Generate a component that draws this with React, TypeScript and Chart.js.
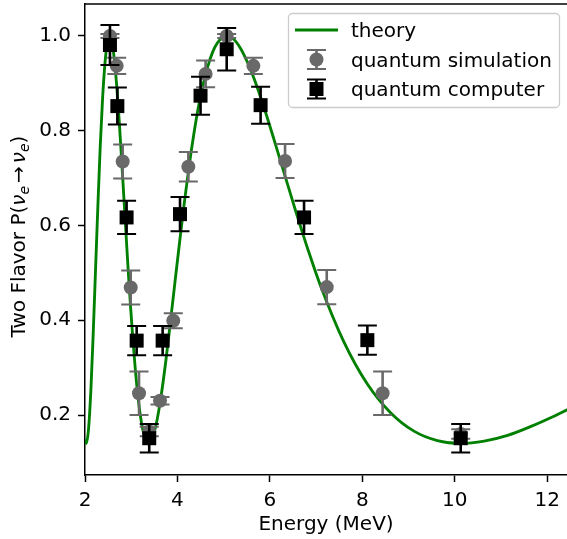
import React, { useEffect, useRef } from "react";
import { Chart, registerables } from "chart.js";

Chart.register(...registerables);

// ---- data ----
const theoryEnergy = [
  2.0, 2.026, 2.077, 2.128, 2.178, 2.229, 2.28, 2.33, 2.381, 2.432, 2.482, 2.533,
  2.584, 2.634, 2.685, 2.736, 2.786, 2.837, 2.888, 2.938, 2.989, 3.04, 3.09, 3.141,
  3.192, 3.242, 3.293, 3.344, 3.394, 3.445, 3.546, 3.648, 3.749, 3.85, 3.951, 4.053,
  4.154, 4.255, 4.357, 4.458, 4.559, 4.661, 4.762, 4.863, 4.965, 5.066, 5.218, 5.37,
  5.522, 5.674, 5.877, 6.079, 6.333, 6.586, 6.839, 7.092, 7.599, 8.106, 8.612, 9.119,
  9.625, 10.132, 10.639, 11.145, 11.652, 12.158, 12.665,
];
const theoryProb = [
  0.149, 0.14, 0.171, 0.254, 0.373, 0.509, 0.645, 0.768, 0.869, 0.942, 0.986, 1.0,
  0.987, 0.951, 0.896, 0.827, 0.749, 0.666, 0.582, 0.5, 0.424, 0.355, 0.295, 0.243,
  0.203, 0.173, 0.153, 0.142, 0.14, 0.147, 0.183, 0.241, 0.314, 0.398, 0.484, 0.57,
  0.652, 0.727, 0.794, 0.852, 0.899, 0.937, 0.966, 0.985, 0.996, 1.0, 0.993, 0.973,
  0.943, 0.906, 0.848, 0.785, 0.703, 0.622, 0.545, 0.474, 0.355, 0.266, 0.205, 0.166,
  0.146, 0.14, 0.145, 0.157, 0.176, 0.198, 0.222,
];

const simEnergy = [2.54, 2.686, 2.815, 2.989, 3.169, 3.39, 3.623, 3.91, 4.236, 4.61, 5.066, 5.643, 6.329, 7.231, 8.44, 10.13];
const simProb = [1.0, 0.937, 0.735, 0.469, 0.246, 0.165, 0.23, 0.399, 0.724, 0.92, 1.0, 0.937, 0.736, 0.47, 0.246, 0.16];
const simErr = [0.004, 0.017, 0.036, 0.036, 0.046, 0.01, 0.008, 0.016, 0.031, 0.028, 0.004, 0.017, 0.036, 0.036, 0.046, 0.01];

const compEnergy = [2.54, 2.7, 2.9, 3.118, 3.39, 3.68, 4.056, 4.5, 5.066, 5.8, 6.74, 8.11, 10.13];
const compProb = [0.981, 0.852, 0.617, 0.357, 0.151, 0.357, 0.624, 0.874, 0.972, 0.854, 0.617, 0.358, 0.151];
const compErr = [0.042, 0.039, 0.035, 0.031, 0.03, 0.031, 0.036, 0.04, 0.045, 0.039, 0.035, 0.031, 0.03];

const xTickValues = [2, 4, 6, 8, 10, 12];
const yTickValues = [0.2, 0.4, 0.6, 0.8, 1.0];

const seriesLabels = ["theory", "quantum simulation", "quantum computer"];
const xTitle = "Energy (MeV)";

const GREEN = "#008000";
const GRAY = "#696969";
const BLACK = "#000000";
const FONT = '"DejaVu Sans"';

const errorBarPlugin = {
  id: "errorBars",
  beforeDatasetDraw(chart: any, args: any) {
    const ds: any = chart.data.datasets[args.index];
    if (!ds.errors) return;
    const xs = chart.scales.x;
    const ys = chart.scales.y;
    const ctx = chart.ctx;
    const area = chart.chartArea;
    ctx.save();
    ctx.beginPath();
    ctx.rect(area.left, area.top, area.right - area.left, area.bottom - area.top);
    ctx.clip();
    ctx.strokeStyle = ds.errorColor;
    ds.data.forEach((pt: any, i: number) => {
      const e = ds.errors[i];
      const px = xs.getPixelForValue(pt.x);
      const top = ys.getPixelForValue(pt.y + e);
      const bot = ys.getPixelForValue(pt.y - e);
      ctx.lineWidth = 2.6;
      ctx.beginPath();
      ctx.moveTo(px, top);
      ctx.lineTo(px, bot);
      ctx.stroke();
      ctx.lineWidth = 2;
      ctx.beginPath();
      ctx.moveTo(px - 9.5, top);
      ctx.lineTo(px + 9.5, top);
      ctx.moveTo(px - 9.5, bot);
      ctx.lineTo(px + 9.5, bot);
      ctx.stroke();
    });
    ctx.restore();
  },
};

const decorPlugin = {
  id: "decor",
  afterDraw(chart: any) {
    const ctx = chart.ctx;
    const area = chart.chartArea;
    ctx.save();
    // top spine
    ctx.strokeStyle = BLACK;
    ctx.lineWidth = 1.5;
    ctx.beginPath();
    ctx.moveTo(area.left, area.top);
    ctx.lineTo(area.right, area.top);
    ctx.stroke();

    // x title
    ctx.fillStyle = BLACK;
    ctx.font = `20px ${FONT}`;
    ctx.textAlign = "center";
    ctx.textBaseline = "alphabetic";
    ctx.fillText(xTitle, (area.left + area.right) / 2, 530);

    // y title with subscripts
    const normal = `20px ${FONT}`;
    const ital = `italic 20px ${FONT}`;
    const sub = `italic 14px ${FONT}`;
    const segs = [
      { t: "Two Flavor P(", f: normal, dy: 0, gap: 0 },
      { t: "ν", f: ital, dy: 0, gap: 0 },
      { t: "e", f: sub, dy: 4, gap: 3 },
      { t: "→", f: normal, dy: 0, gap: 3 },
      { t: "ν", f: ital, dy: 0, gap: 0 },
      { t: "e", f: sub, dy: 4, gap: 0 },
      { t: ")", f: normal, dy: 0, gap: 0 },
    ];
    let total = 0;
    for (const s of segs) {
      ctx.font = s.f;
      total += ctx.measureText(s.t).width + s.gap;
    }
    ctx.translate(25, (area.top + area.bottom) / 2 - 3);
    ctx.rotate(-Math.PI / 2);
    ctx.textAlign = "left";
    let cx = -total / 2;
    for (const s of segs) {
      ctx.font = s.f;
      ctx.fillText(s.t, cx, s.dy);
      cx += ctx.measureText(s.t).width + s.gap;
    }
    ctx.setTransform(1, 0, 0, 1, 0, 0);

    // legend
    const bx = 288.5, by = 13.5, bw = 271, bh = 94;
    ctx.beginPath();
    if (ctx.roundRect) ctx.roundRect(bx, by, bw, bh, 4);
    else ctx.rect(bx, by, bw, bh);
    ctx.fillStyle = "rgba(255,255,255,0.8)";
    ctx.fill();
    ctx.strokeStyle = "#cccccc";
    ctx.lineWidth = 1.3;
    ctx.stroke();

    const hx = 316.5;
    const rows = [30, 59.5, 89];
    // theory handle
    ctx.strokeStyle = GREEN;
    ctx.lineWidth = 2.85;
    ctx.beginPath();
    ctx.moveTo(295, rows[0]);
    ctx.lineTo(338, rows[0]);
    ctx.stroke();
    // errorbar handles
    const drawHandle = (cy: number, color: string, square: boolean) => {
      ctx.strokeStyle = color;
      ctx.lineWidth = 2.6;
      ctx.beginPath();
      ctx.moveTo(hx, cy - 9.5);
      ctx.lineTo(hx, cy + 9.5);
      ctx.stroke();
      ctx.lineWidth = 2;
      ctx.beginPath();
      ctx.moveTo(hx - 9.5, cy - 9.5);
      ctx.lineTo(hx + 9.5, cy - 9.5);
      ctx.moveTo(hx - 9.5, cy + 9.5);
      ctx.lineTo(hx + 9.5, cy + 9.5);
      ctx.stroke();
      ctx.fillStyle = color;
      ctx.beginPath();
      if (square) ctx.rect(hx - 7, cy - 7, 14, 14);
      else ctx.arc(hx, cy, 7, 0, Math.PI * 2);
      ctx.fill();
    };
    drawHandle(rows[1], GRAY, false);
    drawHandle(rows[2], BLACK, true);

    ctx.fillStyle = BLACK;
    ctx.font = `20px ${FONT}`;
    ctx.textAlign = "left";
    ctx.textBaseline = "alphabetic";
    const labels = chart.data.datasets.map((d: any) => d.label);
    labels.forEach((l: string, i: number) => ctx.fillText(l, 351, rows[i] + 7));
    ctx.restore();
  },
};

const zeroPad = (s: any) => {
  s.paddingTop = 0;
  s.paddingBottom = 0;
  s.paddingLeft = 0;
  s.paddingRight = 0;
};

export default function App() {
  const ref = useRef<HTMLCanvasElement | null>(null);
  useEffect(() => {
    if (!ref.current) return;
    Chart.defaults.font.family = FONT;
    Chart.defaults.font.size = 20;
    Chart.defaults.color = BLACK;
    const chart = new Chart(ref.current, {
      type: "scatter",
      data: {
        datasets: [
          {
            label: seriesLabels[0],
            data: theoryEnergy.map((e, i) => ({ x: e, y: theoryProb[i] })),
            showLine: true,
            borderColor: GREEN,
            backgroundColor: GREEN,
            borderWidth: 2.85,
            pointRadius: 0,
            cubicInterpolationMode: "monotone",
            order: 3,
          },
          {
            label: seriesLabels[1],
            data: simEnergy.map((e, i) => ({ x: e, y: simProb[i] })),
            errors: simErr,
            errorColor: GRAY,
            pointStyle: "circle",
            pointRadius: 7,
            backgroundColor: GRAY,
            borderColor: GRAY,
            borderWidth: 0,
            order: 2,
          } as any,
          {
            label: seriesLabels[2],
            data: compEnergy.map((e, i) => ({ x: e, y: compProb[i] })),
            errors: compErr,
            errorColor: BLACK,
            pointStyle: "rect",
            pointRadius: 9.9,
            backgroundColor: BLACK,
            borderColor: BLACK,
            borderWidth: 0,
            order: 1,
          } as any,
        ],
      },
      options: {
        responsive: false,
        animation: false,
        devicePixelRatio: 1,
        layout: { autoPadding: false, padding: { top: 4, left: 0, right: 0, bottom: 0 } },
        plugins: { legend: { display: false }, tooltip: { enabled: false } },
        events: [],
        scales: {
          x: {
            type: "linear",
            min: 2,
            max: 12.43,
            afterBuildTicks: (s: any) => {
              s.ticks = xTickValues.map((v) => ({ value: v }));
            },
            afterFit: (s: any) => {
              s.height = 64;
              zeroPad(s);
            },
            ticks: {
              callback: (v: any) => String(v),
              padding: 7,
              color: BLACK,
              font: { size: 20, family: FONT },
              maxRotation: 0,
              autoSkip: false,
            },
            grid: {
              drawOnChartArea: false,
              drawTicks: true,
              tickLength: 7,
              tickWidth: 1.5,
              tickColor: BLACK,
            },
            border: { display: true, color: BLACK, width: 1.5 },
          },
          y: {
            type: "linear",
            min: 0.0734,
            max: 1.0675,
            afterBuildTicks: (s: any) => {
              s.ticks = yTickValues.map((v) => ({ value: v }));
            },
            afterFit: (s: any) => {
              s.width = 85;
              zeroPad(s);
            },
            ticks: {
              callback: (v: any) => Number(v).toFixed(1),
              padding: 7,
              color: BLACK,
              font: { size: 20, family: FONT },
              autoSkip: false,
            },
            grid: {
              drawOnChartArea: false,
              drawTicks: true,
              tickLength: 7,
              tickWidth: 1.5,
              tickColor: BLACK,
            },
            border: { display: true, color: BLACK, width: 1.5 },
          },
        },
      } as any,
      plugins: [errorBarPlugin, decorPlugin],
    });
    return () => chart.destroy();
  }, []);
  return (
    <div style={{ position: "absolute", left: 0, top: 0, width: 567, height: 539, background: "#fff" }}>
      <canvas ref={ref} width={567} height={539} style={{ width: 567, height: 539, display: "block" }} />
    </div>
  );
}
